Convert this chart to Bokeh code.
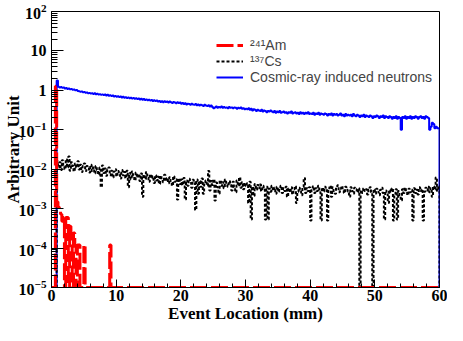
import numpy as np
from bokeh.plotting import figure
from bokeh.models import Legend, LegendItem, FixedTicker, SingleIntervalTicker
from bokeh.embed import file_html
from bokeh.resources import INLINE

# ---------------- data (0.2 mm bins, 0 - 60 mm) ----------------
bin_width_mm = 0.2
x_min, x_max = 0.0, 60.0
y_min, y_max = 1e-5, 1e2

am241 = [
    0, 0, 0, 1.28, 0.0015, 0.0011, 0.00084, 0.00072, 0.00048, 0.0006,
    0, 0.0006, 0.0006, 0, 0.00036, 0.00024, 0, 0.00024, 0.00012, 0,
    0.00012, 0.00012, 0, 0, 0, 0.00012, 0, 0, 0, 0,
    0, 0, 0, 0, 0, 0, 0, 0, 0, 0,
    0, 0, 0, 0, 0, 0.00012, 0, 0, 0, 0,
    0, 0, 0, 0, 0, 0, 0, 0, 0, 0,
    0, 0, 0, 0, 0, 0, 0, 0, 0, 0,
    0, 0, 0, 0, 0, 0, 0, 0, 0, 0,
    0, 0, 0, 0, 0, 0, 0, 0, 0, 0,
    0, 0, 0, 0, 0, 0, 0, 0, 0, 0,
    0, 0, 0, 0, 0, 0, 0, 0, 0, 0,
    0, 0, 0, 0, 0, 0, 0, 0, 0, 0,
    0, 0, 0, 0, 0, 0, 0, 0, 0, 0,
    0, 0, 0, 0, 0, 0, 0, 0, 0, 0,
    0, 0, 0, 0, 0, 0, 0, 0, 0, 0,
    0, 0, 0, 0, 0, 0, 0, 0, 0, 0,
    0, 0, 0, 0, 0, 0, 0, 0, 0, 0,
    0, 0, 0, 0, 0, 0, 0, 0, 0, 0,
    0, 0, 0, 0, 0, 0, 0, 0, 0, 0,
    0, 0, 0, 0, 0, 0, 0, 0, 0, 0,
    0, 0, 0, 0, 0, 0, 0, 0, 0, 0,
    0, 0, 0, 0, 0, 0, 0, 0, 0, 0,
    0, 0, 0, 0, 0, 0, 0, 0, 0, 0,
    0, 0, 0, 0, 0, 0, 0, 0, 0, 0,
    0, 0, 0, 0, 0, 0, 0, 0, 0, 0,
    0, 0, 0, 0, 0, 0, 0, 0, 0, 0,
    0, 0, 0, 0, 0, 0, 0, 0, 0, 0,
    0, 0, 0, 0, 0, 0, 0, 0, 0, 0,
    0, 0, 0, 0, 0, 0, 0, 0, 0, 0,
    0, 0, 0, 0, 0, 0, 0, 0, 0, 0,
]

cs137 = [
    0, 0, 0, 0, 0.016, 0.011, 0.015, 0.0095, 0.017, 0.012,
    0.010, 0.018, 0.011, 0.021, 0.0092, 0.015, 0.012, 0.0088, 0.014, 0.011,
    0.016, 0.0098, 0.013, 0.0085, 0.012, 0.014, 0.0090, 0.012, 0.0105, 0.0082,
    0.013, 0.0090, 0.011, 0.0078, 0.012, 0.0095, 0.0072, 0.011, 0.0035, 0.0125,
    0.0080, 0.0105, 0.0068, 0.0098, 0.0110, 0.0070, 0.0092, 0.0062, 0.0088, 0.0100,
    0.0066, 0.0090, 0.0075, 0.0058, 0.0095, 0.0070, 0.0085, 0.0060, 0.0092, 0.0035,
    0.0080, 0.0055, 0.0088, 0.0068, 0.0052, 0.0082, 0.0062, 0.0075, 0.0050, 0.0078,
    0.0020, 0.0072, 0.0056, 0.0085, 0.0060, 0.0048, 0.0074, 0.0058, 0.0066, 0.0045,
    0.0070, 0.0052, 0.0064, 0.0042, 0.0068, 0.0055, 0.0047, 0.0072, 0.0050, 0.0060,
    0.0044, 0.0063, 0.0050, 0.0038, 0.0066, 0.0048, 0.0056, 0.0017, 0.0058, 0.0042,
    0.0055, 0.0040, 0.0060, 0.0017, 0.0052, 0.0038, 0.0057, 0.0045, 0.0034, 0.0054,
    0.0046, 0.00093, 0.0055, 0.0024, 0.0050, 0.0036, 0.0058, 0.0024, 0.0044, 0.0052,
    0.0038, 0.0090, 0.0029, 0.0050, 0.0040, 0.0055, 0.0016, 0.0046, 0.0035, 0.0024,
    0.0052, 0.0038, 0.0047, 0.0033, 0.0055, 0.0041, 0.0036, 0.0050, 0.0042, 0.0029,
    0.0048, 0.0035, 0.0026, 0.0052, 0.0038, 0.0062, 0.0034, 0.0047, 0.0031, 0.0045,
    0.0037, 0.0044, 0.0014, 0.0048, 0.00053, 0.0036, 0.0021, 0.0042, 0.0030, 0.0040,
    0.0033, 0.0041, 0.0028, 0.0038, 0.0030, 0.00053, 0.0036, 0.00053, 0.0032, 0.0027,
    0.0038, 0.0029, 0.0034, 0.0024, 0.0036, 0.0027, 0.0032, 0.0038, 0.0025, 0.0033,
    0.0028, 0.0036, 0.0020, 0.0033, 0.0026, 0.0035, 0.0023, 0.0031, 0.0037, 0.0014,
    0.0027, 0.0034, 0.0030, 0.0022, 0.0036, 0.0060, 0.0025, 0.0033, 0.0028, 0.0035,
    0.00050, 0.0031, 0.0037, 0.0025, 0.0033, 0.0028, 0.0038, 0.0026, 0.00050, 0.0034,
    0.0027, 0.0036, 0.0030, 0.00050, 0.0033, 0.0038, 0.0020, 0.0035, 0.0028, 0.0024,
    0.0034, 0.0039, 0.0026, 0.0032, 0.0037, 0.0029, 0.0025, 0.0036, 0.0030, 0.0027,
    0.0020, 0.0035, 0.0028, 0.0024, 0.0034, 0.0031, 0.0026, 0.0033, 0.0, 0.0029,
    0.0025, 0.0033, 0.0028, 0.0031, 0.0023, 0.0030, 0.0035, 0.0026, 0.0, 0.0031,
    0.0024, 0.0032, 0.0027, 0.0022, 0.0030, 0.0034, 0.0025, 0.00053, 0.0029, 0.0023,
    0.0014, 0.0030, 0.0026, 0.0033, 0.00050, 0.0024, 0.0031, 0.00053, 0.0028, 0.0022,
    0.0016, 0.0031, 0.0025, 0.0034, 0.0027, 0.0022, 0.0032, 0.0026, 0.0030, 0.00050,
    0.0033, 0.0025, 0.0030, 0.0023, 0.0035, 0.0028, 0.0031, 0.00050, 0.0027, 0.0034,
    0.0029, 0.0036, 0.0026, 0.0033, 0.0020, 0.0037, 0.0030, 0.0062, 0.0028, 0.0038,
]

cosmic = [
    0, 0, 0, 0, 1.77, 1.24, 1.19, 1.21, 1.16, 1.18,
    1.12, 1.14, 1.09, 1.11, 1.06, 1.08, 1.03, 1.05, 1.00, 1.02,
    0.97, 0.95, 0.92, 0.94, 0.89, 0.91, 0.87, 0.88, 0.85, 0.86,
    0.83, 0.85, 0.81, 0.84, 0.80, 0.82, 0.78, 0.80, 0.77, 0.79,
    0.76, 0.78, 0.74, 0.77, 0.73, 0.75, 0.72, 0.74, 0.70, 0.72,
    0.69, 0.71, 0.68, 0.70, 0.66, 0.69, 0.65, 0.67, 0.64, 0.66,
    0.63, 0.65, 0.62, 0.64, 0.61, 0.63, 0.60, 0.62, 0.59, 0.61,
    0.58, 0.60, 0.57, 0.59, 0.56, 0.58, 0.55, 0.57, 0.54, 0.56,
    0.54, 0.55, 0.52, 0.54, 0.51, 0.53, 0.50, 0.53, 0.51, 0.52,
    0.49, 0.52, 0.50, 0.48, 0.51, 0.49, 0.47, 0.50, 0.48, 0.49,
    0.46, 0.48, 0.45, 0.47, 0.44, 0.46, 0.45, 0.43, 0.46, 0.44,
    0.43, 0.45, 0.42, 0.44, 0.41, 0.43, 0.42, 0.40, 0.43, 0.41,
    0.40, 0.42, 0.39, 0.41, 0.38, 0.35, 0.37, 0.39, 0.36, 0.38,
    0.37, 0.39, 0.36, 0.38, 0.36, 0.37, 0.35, 0.38, 0.36, 0.37,
    0.35, 0.37, 0.36, 0.34, 0.36, 0.35, 0.37, 0.34, 0.35, 0.33,
    0.34, 0.33, 0.35, 0.32, 0.34, 0.31, 0.33, 0.32, 0.30, 0.32,
    0.31, 0.30, 0.32, 0.29, 0.31, 0.30, 0.28, 0.30, 0.29, 0.31,
    0.29, 0.28, 0.30, 0.27, 0.29, 0.28, 0.30, 0.27, 0.28, 0.29,
    0.27, 0.28, 0.26, 0.28, 0.27, 0.29, 0.26, 0.27, 0.28, 0.26,
    0.27, 0.25, 0.28, 0.26, 0.27, 0.25, 0.27, 0.26, 0.28, 0.25,
    0.26, 0.25, 0.27, 0.24, 0.26, 0.25, 0.27, 0.24, 0.26, 0.25,
    0.24, 0.26, 0.25, 0.23, 0.25, 0.24, 0.26, 0.23, 0.25, 0.24,
    0.25, 0.23, 0.24, 0.26, 0.23, 0.24, 0.22, 0.25, 0.23, 0.24,
    0.23, 0.24, 0.22, 0.25, 0.23, 0.22, 0.24, 0.23, 0.21, 0.23,
    0.22, 0.24, 0.21, 0.23, 0.22, 0.21, 0.23, 0.22, 0.20, 0.22,
    0.21, 0.23, 0.22, 0.20, 0.22, 0.21, 0.23, 0.20, 0.22, 0.21,
    0.20, 0.22, 0.21, 0.19, 0.21, 0.20, 0.22, 0.19, 0.21, 0.20,
    0.10, 0.21, 0.20, 0.22, 0.19, 0.21, 0.20, 0.22, 0.19, 0.21,
    0.20, 0.22, 0.21, 0.19, 0.21, 0.22, 0.20, 0.21, 0.19, 0.22,
    0.21, 0.20, 0.10, 0.12, 0.15, 0.14, 0.11, 0.12, 0.11, 0.11,
]

series_labels = ["²⁴¹Am", "¹³⁷Cs", "Cosmic-ray induced neutrons"]
x_title = "Event Location (mm)"
y_title = "Arbitrary Unit"

# ---------------- helpers ----------------
n_bins = len(cosmic)
edges = x_min + bin_width_mm * np.arange(n_bins + 1)


def step_path(vals):
    # ROOT draws contents below the axis minimum at the minimum
    v = np.clip(np.asarray(vals, dtype=float), y_min, None)
    xs = np.repeat(edges, 2)[1:-1]
    ys = np.repeat(v, 2)
    xs = np.concatenate([[edges[0]], xs, [edges[-1]]])
    ys = np.concatenate([[y_min], ys, [y_min]])
    return xs, ys


SERIF = "Liberation Serif"
SANS = "Liberation Sans"

p = figure(width=447, height=325, x_range=(x_min, x_max), y_range=(y_min, y_max),
           y_axis_type="log", output_backend="svg", toolbar_location=None,
           min_border_left=46, min_border_right=8, min_border_top=11,
           min_border_bottom=37)
p.xgrid.visible = False
p.ygrid.visible = False
p.outline_line_color = "black"
p.outline_line_width = 1
p.outline_line_alpha = 1.0
p.background_fill_color = "white"
p.border_fill_color = "white"

xs, ys = step_path(cosmic)
r_cos = p.line(xs, ys, line_color="#0000ff", line_width=2)
xs, ys = step_path(cs137)
r_cs = p.line(xs, ys, line_color="black", line_width=2, line_dash="3 2")
xs, ys = step_path(am241)
r_am = p.line(xs, ys, line_color="#ff0000", line_width=3, line_dash="17 4")

# ---------------- axes ----------------
p.xaxis.ticker = SingleIntervalTicker(interval=10, num_minor_ticks=5)
decades = [1e-5, 1e-4, 1e-3, 1e-2, 1e-1, 1, 10, 100]
minor = [k * d for d in decades[:-1] for k in range(2, 10)]
p.yaxis.ticker = FixedTicker(ticks=decades, minor_ticks=minor)
p.yaxis.major_label_overrides = {1: "1", 10: "10"}

for ax in (p.xaxis[0], p.yaxis[0]):
    ax.axis_line_color = "black"
    ax.major_tick_line_color = "black"
    ax.minor_tick_line_color = "black"
    ax.major_tick_out = 0
    ax.minor_tick_out = 0
    ax.major_label_text_font = SERIF
    ax.major_label_text_font_style = "bold"
    ax.major_label_text_font_size = "16px"
    ax.major_label_text_color = "black"
    ax.axis_label_text_font = SERIF
    ax.axis_label_text_font_style = "bold"
    ax.axis_label_text_font_size = "17px"
    ax.axis_label_text_color = "black"

p.xaxis.axis_label = x_title
p.yaxis.axis_label = y_title
p.xaxis.major_tick_in = 8
p.xaxis.minor_tick_in = 4
p.xaxis.major_label_standoff = 2
p.xaxis.axis_label_standoff = 0
p.yaxis.major_tick_in = 12
p.yaxis.minor_tick_in = 6
p.yaxis.major_label_standoff = 5
p.yaxis.axis_label_standoff = -7
p.yaxis.axis_label_text_line_height = 0.75

# one legend per row so each row sits where the reference has it
row_bottoms = [232.4, 216.4, 200.4]
for lab, rend, vy in zip(series_labels, [r_am, r_cs, r_cos], row_bottoms):
    lg = Legend(items=[LegendItem(label=lab, renderers=[rend])], location=(165, vy))
    lg.background_fill_alpha = 0
    lg.border_line_alpha = 0
    lg.label_text_font = SANS
    lg.label_text_font_size = "14px"
    lg.glyph_width = 27
    lg.glyph_height = 20
    lg.label_height = 20
    lg.spacing = 0
    lg.padding = 0
    lg.margin = 0
    lg.label_standoff = 7
    p.add_layout(lg)

open("out.html", "w").write(file_html(p, INLINE))
